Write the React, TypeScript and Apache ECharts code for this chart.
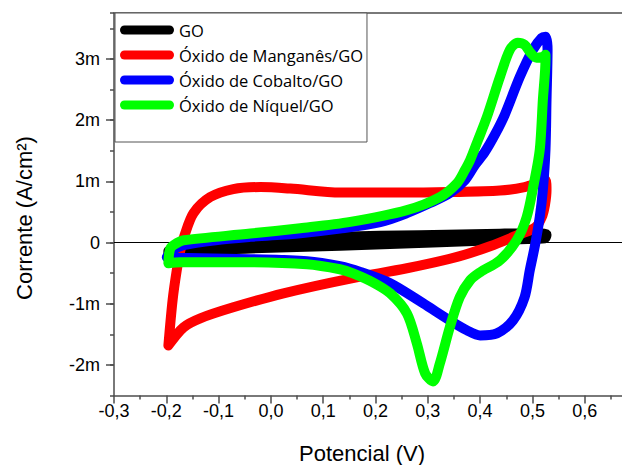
import React, { useEffect, useRef } from "react";
import * as echarts from "echarts";

// Cyclic voltammograms: [potential (V), current (mA/cm², shown as "m")]
const seriesNames = ["GO", "Óxido de Manganês/GO", "Óxido de Cobalto/GO", "Óxido de Níquel/GO"];
const seriesColors = ["#000000", "#ff0000", "#0000ff", "#00ff00"];

const goCurve: [number, number][] = [
  [-0.196, -0.142], [-0.163, -0.044], [-0.096, 0.021], [0.0, 0.054], [0.132, 0.095],
  [0.285, 0.12], [0.438, 0.144], [0.514, 0.152], [0.527, 0.128], [0.524, 0.07],
  [0.476, 0.054], [0.323, 0.005], [0.132, -0.052], [0.0, -0.085], [-0.096, -0.118],
  [-0.163, -0.159], [-0.196, -0.192], [-0.196, -0.142],
];

const mnCurve: [number, number][] = [
  [-0.196, -1.681], [-0.188, -0.945], [-0.18, -0.454], [-0.173, -0.126], [-0.165, 0.12],
  [-0.148, 0.48], [-0.116, 0.742], [-0.072, 0.873], [-0.02, 0.906], [0.037, 0.881],
  [0.133, 0.815], [0.247, 0.815], [0.342, 0.824], [0.438, 0.848], [0.485, 0.905],
  [0.514, 0.987], [0.525, 1.02], [0.527, 0.856], [0.524, 0.611], [0.518, 0.415],
  [0.506, 0.25], [0.476, 0.136], [0.419, -0.061], [0.356, -0.236], [0.26, -0.421],
  [0.152, -0.589], [0.024, -0.83], [-0.072, -1.059], [-0.135, -1.239], [-0.167, -1.386],
  [-0.196, -1.681],
];

const coCurve: [number, number][] = [
  [-0.199, -0.241], [-0.188, -0.126], [-0.167, -0.044], [-0.106, 0.038], [-0.039, 0.092],
  [0.056, 0.152], [0.132, 0.226], [0.209, 0.332], [0.26, 0.48], [0.304, 0.644],
  [0.342, 0.807], [0.371, 1.02], [0.39, 1.266], [0.409, 1.478], [0.428, 1.757],
  [0.447, 2.084], [0.476, 2.707], [0.501, 3.149], [0.518, 3.345], [0.525, 3.361],
  [0.529, 3.149], [0.527, 2.33], [0.525, 1.511], [0.52, 0.856], [0.514, 0.414],
  [0.505, -0.044], [0.495, -0.454], [0.485, -0.896], [0.463, -1.272], [0.432, -1.485],
  [0.4, -1.518], [0.375, -1.436], [0.342, -1.272], [0.291, -0.994], [0.228, -0.666],
  [0.171, -0.481], [0.132, -0.388], [0.069, -0.306], [-0.039, -0.273], [-0.135, -0.257],
  [-0.182, -0.249], [-0.199, -0.241],
];

const niCurve: [number, number][] = [
  [-0.196, -0.339], [-0.192, -0.093], [-0.177, 0.005], [-0.167, 0.038], [-0.039, 0.147],
  [0.056, 0.234], [0.152, 0.337], [0.26, 0.529], [0.323, 0.742], [0.356, 0.971],
  [0.371, 1.184], [0.381, 1.348], [0.396, 1.675], [0.413, 2.052], [0.438, 2.707],
  [0.457, 3.149], [0.472, 3.263], [0.485, 3.231], [0.495, 3.116], [0.508, 3.018],
  [0.52, 3.034], [0.525, 3.067], [0.525, 2.985], [0.52, 2.33], [0.514, 1.511],
  [0.503, 0.971], [0.489, 0.414], [0.47, 0.038], [0.438, -0.29], [0.4, -0.487],
  [0.381, -0.617], [0.361, -0.895], [0.342, -1.386], [0.323, -1.976], [0.31, -2.271],
  [0.295, -2.14], [0.279, -1.648], [0.26, -1.157], [0.228, -0.83], [0.195, -0.65],
  [0.157, -0.503], [0.132, -0.437], [0.069, -0.355], [-0.058, -0.322], [-0.173, -0.322],
  [-0.196, -0.339],
];

const curves = [goCurve, mnCurve, coCurve, niCurve];
const yMajorTicks = [-2, -1, 0, 1, 2, 3];
const xTitle = "Potencial (V)";
const yTitle = "Corrente (A/cm²)";

const axisColor = "#4d4d4d";
const tickFont = "Liberation Sans";

export default function App() {
  const ref = useRef<HTMLDivElement>(null);

  useEffect(() => {
    document.body.style.margin = "0";
    const chart = echarts.init(ref.current!, null, { renderer: "svg" });

    const xFmt = (v: number) => {
      if (v > 0.65) return "";
      const s = v.toFixed(1).replace(".", ",");
      return s === "-0,0" ? "0,0" : s;
    };
    const yFmt = (v: number) => (Math.abs(v) < 1e-9 ? "0" : `${Math.round(v)}m`);

    const option: any = {
      animation: false,
      grid: { left: 114, right: 1.8, top: 13, bottom: 69.5, containLabel: false },
      xAxis: [
        {
          type: "value",
          position: "bottom",
          min: -0.3,
          max: 0.7,
          interval: 0.1,
          axisLine: { show: true, onZero: false, lineStyle: { color: axisColor, width: 1.5 } },
          axisTick: { show: true, length: 8, inside: false, lineStyle: { color: axisColor, width: 1.5 } },
          minorTick: { show: true, splitNumber: 2, length: 4, lineStyle: { color: axisColor, width: 1.5 } },
          axisLabel: { fontSize: 18, fontFamily: tickFont, color: "#000", margin: 6, formatter: xFmt },
          splitLine: { show: false },
        },
        {
          type: "value",
          position: "top",
          min: -0.3,
          max: 0.7,
          interval: 0.1,
          axisLine: { show: true, onZero: false, lineStyle: { color: axisColor, width: 1.5 } },
          axisTick: { show: false },
          axisLabel: { show: false },
          splitLine: { show: false },
        },
      ],
      yAxis: [
        {
          type: "value",
          position: "left",
          min: -2.5,
          max: 3.75,
          interval: 0.5,
          axisLine: { show: true, onZero: false, lineStyle: { color: axisColor, width: 1.5 } },
          axisTick: { show: true, length: 4, lineStyle: { color: axisColor, width: 1.5 } },
          axisLabel: { show: false },
          splitLine: { show: false },
        },
        {
          type: "value",
          position: "left",
          min: -2.5,
          max: 3.75,
          interval: 0.5,
          axisLine: { show: false, onZero: false },
          axisTick: { show: true, length: 8, customValues: yMajorTicks, lineStyle: { color: axisColor, width: 1.5 } },
          axisLabel: {
            show: true,
            customValues: yMajorTicks,
            fontSize: 18,
            fontFamily: tickFont,
            color: "#000",
            margin: 14,
            formatter: yFmt,
          },
          splitLine: { show: false },
        },
      ],
      legend: {
        show: true,
        orient: "vertical",
        left: 115,
        top: 13,
        padding: [7, 4, 27, 5],
        itemWidth: 54,
        itemHeight: 9,
        itemGap: 5,
        icon: "path://M4.5,0 L49.5,0 A4.5,4.5 0 0 1 49.5,9 L4.5,9 A4.5,4.5 0 0 1 4.5,0 Z",
        itemStyle: { borderWidth: 0 },
        backgroundColor: "#ffffff",
        borderColor: "#555555",
        borderWidth: 1,
        textStyle: { fontFamily: "Open Sans", fontSize: 16.5, color: "#000", lineHeight: 20 },
        data: seriesNames,
        selectedMode: false,
      },
      graphic: [
        {
          type: "text",
          x: 362,
          y: 464,
          style: {
            text: xTitle,
            font: `22px ${tickFont}`,
            fill: "#000",
            align: "center",
            verticalAlign: "bottom",
          },
        },
        {
          type: "text",
          x: 24,
          y: 218,
          rotation: Math.PI / 2,
          style: {
            text: yTitle,
            font: `22px ${tickFont}`,
            fill: "#000",
            align: "center",
            verticalAlign: "middle",
          },
        },
      ],
      series: curves.map((c, i) => ({
        name: seriesNames[i],
        type: "line",
        xAxisIndex: 0,
        yAxisIndex: 0,
        data: c,
        showSymbol: false,
        symbol: "none",
        smooth: 0.3,
        z: 2,
        color: seriesColors[i],
        lineStyle: { width: 10, color: seriesColors[i], cap: "round", join: "round" },
        ...(i === 0
          ? {
              markLine: {
                silent: true,
                z: 1,
                symbol: ["none", "none"],
                label: { show: false },
                lineStyle: { color: "#000", width: 1, type: "solid" },
                data: [{ yAxis: 0 }],
              },
            }
          : {}),
      })),
    };

    chart.setOption(option);
    return () => chart.dispose();
  }, []);

  return (
    <div style={{ width: 622, height: 465, overflow: "hidden", position: "relative" }}>
      <div ref={ref} style={{ width: 640, height: 465 }} />
    </div>
  );
}
